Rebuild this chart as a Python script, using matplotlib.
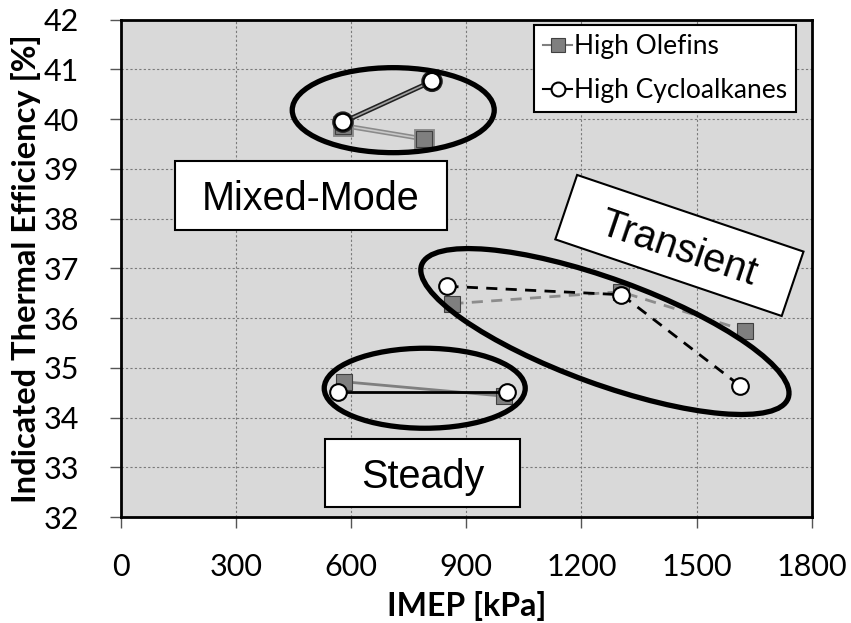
import matplotlib
matplotlib.use("Agg")
import matplotlib.pyplot as plt
from matplotlib.lines import Line2D
from matplotlib.patches import Ellipse, Rectangle
from matplotlib.transforms import Affine2D, ScaledTranslation
import matplotlib.patheffects as pe

# IMEP [kPa] / indicated thermal efficiency [%] per operating mode
mm_ole_x = [580, 791]
mm_ole_y = [39.87, 39.60]
mm_cyc_x = [579, 811]
mm_cyc_y = [39.94, 40.76]

tr_ole_x = [864, 1302, 1626]
tr_ole_y = [36.29, 36.53, 35.75]
tr_cyc_x = [851, 1304, 1613]
tr_cyc_y = [36.64, 36.47, 34.64]

st_ole_x = [583, 999]
st_ole_y = [34.72, 34.43]
st_cyc_x = [566, 1006]
st_cyc_y = [34.52, 34.52]

series_names = ["High Olefins", "High Cycloalkanes"]
x_ticks = [0, 300, 600, 900, 1200, 1500, 1800]
y_ticks = list(range(32, 43))

TICK_FONT = "Lato"
NOTE_FONT = "Liberation Sans"
OLE_C = "#7f7f7f"

fig = plt.figure(figsize=(8.51, 6.23), dpi=100)
ax = fig.add_axes([0.1416, 0.170, 0.8125, 0.7985])
ax.set_facecolor("#d9d9d9")
ax.set_xlim(0, 1800)
ax.set_ylim(32, 42)
ax.set_xticks(x_ticks)
ax.set_yticks(y_ticks)
ax.grid(True, color="#7a7a7a", linestyle=(0, (2, 2)), linewidth=0.8)
ax.set_axisbelow(True)
for s in ax.spines.values():
    s.set_linewidth(2.0)
ax.tick_params(direction="out", length=8, width=1.0, color="#555555", labelsize=22)
ax.tick_params(axis="x", pad=18)
ax.tick_params(axis="y", pad=22)
for lab in ax.get_xticklabels() + ax.get_yticklabels():
    lab.set_fontfamily(TICK_FONT)

ax.set_xlabel("IMEP [kPa]", fontsize=23, fontweight="bold", fontfamily=TICK_FONT)
ax.set_ylabel("Indicated Thermal Efficiency [%]", fontsize=23.5, fontweight="bold",
              fontfamily=TICK_FONT)
ax.xaxis.set_label_coords(0.5, -0.148)
ax.yaxis.set_label_coords(-0.115, 0.5)

ole_kw = dict(color=OLE_C, marker="s", markersize=11.5, markerfacecolor=OLE_C,
              markeredgecolor="#404040", markeredgewidth=0.8)
cyc_kw = dict(color="black", marker="o", markersize=12, markerfacecolor="white",
              markeredgecolor="black", markeredgewidth=1.5)

# mixed-mode: solid lines with a light core
ax.plot(mm_ole_x, mm_ole_y, lw=1.2, zorder=3,
        path_effects=[pe.Stroke(linewidth=3.5, foreground="#8a8a8a"), pe.Normal()],
        **{**ole_kw, "color": "#c8c8c8"})
ax.plot(mm_cyc_x, mm_cyc_y, lw=1.2, zorder=4,
        path_effects=[pe.Stroke(linewidth=3.5, foreground="#222222"), pe.Normal()],
        **{**cyc_kw, "color": "#a0a0a0"})

# transient: dashed
ax.plot(tr_ole_x, tr_ole_y, lw=2, linestyle=(0, (4, 3)), zorder=3,
        **{**ole_kw, "color": "#8c8c8c"})
ax.plot(tr_cyc_x, tr_cyc_y, lw=2, linestyle=(0, (4, 3)), zorder=4, **cyc_kw)

# steady: solid
ax.plot(st_ole_x, st_ole_y, lw=2, zorder=3, **ole_kw)
ax.plot(st_cyc_x, st_cyc_y, lw=2, zorder=4, **cyc_kw)


def at(x, y):
    # inch-sized shapes anchored on a data point
    return fig.dpi_scale_trans + ScaledTranslation(x, y, ax.transData)


# group outlines (sizes in inches)
for cx, cy, w, h, ang in [(710, 40.18, 2.02, 0.85, 0),
                          (792, 34.59, 2.01, 0.80, 0),
                          (1261, 35.73, 3.90, 1.05, -20)]:
    ax.add_patch(Ellipse((0, 0), w, h, angle=ang, transform=at(cx, cy),
                         fill=False, edgecolor="black", linewidth=3.8, zorder=5))

# mode labels in white boxes
for txt, cx, cy, w, h, ang in [("Mixed-Mode", 495, 38.47, 2.72, 0.686, 0),
                               ("Steady", 786, 32.89, 1.95, 0.68, 0),
                               ("Transient", 1455, 37.46, 2.39, 0.68, -18.7)]:
    tr = Affine2D().rotate_deg(ang) + at(cx, cy)
    ax.add_patch(Rectangle((-w / 2, -h / 2), w, h, transform=tr, facecolor="white",
                           edgecolor="black", linewidth=1.5, zorder=6))
    ax.text(cx, cy, txt, rotation=ang, rotation_mode="anchor", ha="center",
            va="center_baseline", fontsize=28.5, fontfamily=NOTE_FONT, zorder=7)

handles = [Line2D([], [], lw=1.5, **{**ole_kw, "markersize": 10}),
           Line2D([], [], lw=1.5, **{**cyc_kw, "markersize": 10})]
leg = ax.legend(handles, series_names, loc="upper right",
                bbox_to_anchor=(0.977, 0.989), borderaxespad=0.0,
                prop={"family": TICK_FONT, "size": 19},
                handlelength=1.1, handletextpad=0.05, borderpad=0.35,
                labelspacing=0.7, fancybox=False, framealpha=1.0,
                edgecolor="black")
leg.get_frame().set_linewidth(1.5)
leg.set_zorder(8)

fig.savefig("out.png", dpi=100)
